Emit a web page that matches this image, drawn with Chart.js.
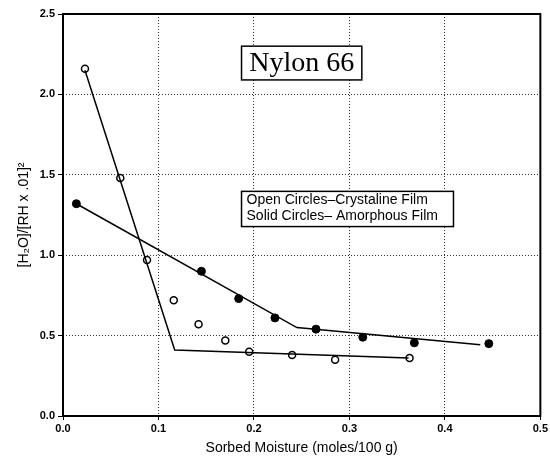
<!DOCTYPE html>
<html>
<head>
<meta charset="utf-8">
<script src="https://cdn.jsdelivr.net/npm/chart.js@4.4.1/dist/chart.umd.min.js"></script>
<style>
  html, body { margin: 0; padding: 0; background: #fff; }
  #wrap { width: 550px; height: 457px; }
</style>
</head>
<body>
<div id="wrap"><canvas id="nylonChart" width="550" height="457"></canvas></div>
<script>
// ─── Data ────────────────────────────────────────────────────────────────────
const openX  = [0.023, 0.060, 0.088, 0.116, 0.142, 0.170, 0.195, 0.240, 0.285, 0.363];
const openY  = [2.16, 1.48, 0.97, 0.72, 0.57, 0.47, 0.40, 0.38, 0.35, 0.36];
const solidX = [0.014, 0.145, 0.184, 0.222, 0.265, 0.314, 0.368, 0.446];
const solidY = [1.32, 0.90, 0.73, 0.61, 0.54, 0.49, 0.455, 0.45];

// hand-drawn fit lines (break points)
const openFitX  = [0.023, 0.117, 0.362];
const openFitY  = [2.15, 0.41, 0.36];
const solidFitX = [0.014, 0.245, 0.437];
const solidFitY = [1.32, 0.55, 0.443];

const xTicks = [0, 0.1, 0.2, 0.3, 0.4, 0.5];
const yTicks = [0, 0.5, 1.0, 1.5, 2.0, 2.5];

const titleText  = 'Nylon 66';
const legendText = ['Open Circles\u2013Crystaline Film', 'Solid Circles\u2013 Amorphous Film'];

const pts = (xs, ys) => xs.map((x, i) => ({ x, y: ys[i] }));

const SANS  = '"Liberation Sans", Arial, Helvetica, sans-serif';
const SERIF = '"Liberation Serif", "Times New Roman", serif';

// ─── Frame + annotation boxes ───────────────────────────────────────────────
const boxesPlugin = {
    id: 'boxes',
    afterDraw(chart) {
        const { ctx, chartArea: a, scales: { x, y } } = chart;
        ctx.save();

        // plot frame
        ctx.strokeStyle = '#000';
        ctx.lineWidth = 2;
        ctx.strokeRect(a.left, a.top, a.right - a.left, a.bottom - a.top);

        // title box
        let l = x.getPixelForValue(0.187), r = x.getPixelForValue(0.313);
        let t = y.getPixelForValue(2.30),  b = y.getPixelForValue(2.09);
        ctx.fillStyle = '#fff';
        ctx.fillRect(l, t, r - l, b - t);
        ctx.lineWidth = 1.5;
        ctx.strokeRect(l, t, r - l, b - t);
        ctx.fillStyle = '#000';
        ctx.font = '28px ' + SERIF;
        ctx.textAlign = 'center';
        ctx.textBaseline = 'middle';
        ctx.fillText(titleText, (l + r) / 2, (t + b) / 2 + 1);

        // legend box
        l = x.getPixelForValue(0.187); r = x.getPixelForValue(0.409);
        t = y.getPixelForValue(1.397); b = y.getPixelForValue(1.178);
        ctx.fillStyle = '#fff';
        ctx.fillRect(l, t, r - l, b - t);
        ctx.strokeRect(l, t, r - l, b - t);
        ctx.fillStyle = '#000';
        ctx.font = '14px ' + SANS;
        ctx.textAlign = 'left';
        ctx.fillText(legendText[0], l + 5, t + 9);
        ctx.fillText(legendText[1], l + 5, t + 25);

        ctx.restore();
    }
};

const ctx = document.getElementById('nylonChart');

new Chart(ctx, {
    type: 'scatter',
    data: {
        datasets: [
            {
                label: 'Crystalline fit',
                data: pts(openFitX, openFitY),
                showLine: true,
                borderColor: '#000',
                borderWidth: 1.5,
                pointRadius: 0,
                fill: false,
            },
            {
                label: 'Amorphous fit',
                data: pts(solidFitX, solidFitY),
                showLine: true,
                borderColor: '#000',
                borderWidth: 1.5,
                pointRadius: 0,
                fill: false,
            },
            {
                label: 'Open Circles',
                data: pts(openX, openY),
                pointStyle: 'circle',
                pointRadius: 3.5,
                pointBackgroundColor: '#fff',
                pointBorderColor: '#000',
                pointBorderWidth: 1.5,
            },
            {
                label: 'Solid Circles',
                data: pts(solidX, solidY),
                pointStyle: 'circle',
                pointRadius: 4,
                pointBackgroundColor: '#000',
                pointBorderColor: '#000',
                pointBorderWidth: 1,
            },
        ],
    },
    options: {
        responsive: false,
        animation: false,
        layout: { padding: { top: 14, right: 6, left: 0, bottom: 0 } },
        plugins: {
            legend: { display: false },
            tooltip: { enabled: false },
        },
        scales: {
            x: {
                type: 'linear',
                min: 0,
                max: 0.5,
                afterBuildTicks: s => { s.ticks = xTicks.map(v => ({ value: v })); },
                afterFit: s => { s.height = 41; },
                ticks: {
                    color: '#000',
                    font: { family: SANS, size: 11, weight: 'bold' },
                    padding: 2,
                    callback: v => v.toFixed(1),
                },
                grid: {
                    color: c => (c.index === 0 || c.index === xTicks.length - 1) ? 'rgba(0,0,0,0)' : '#333',
                    lineWidth: 1,
                    tickLength: 4,
                    tickColor: '#000',
                },
                border: { display: false, dash: [1, 2] },
                title: {
                    display: true,
                    text: 'Sorbed Moisture (moles/100 g)',
                    color: '#000',
                    font: { family: SANS, size: 14 },
                    padding: { top: 0, bottom: 0 },
                },
            },
            y: {
                type: 'linear',
                min: 0,
                max: 2.5,
                afterBuildTicks: s => { s.ticks = yTicks.map(v => ({ value: v })); },
                afterFit: s => { s.width = 63; },
                ticks: {
                    color: '#000',
                    font: { family: SANS, size: 11, weight: 'bold' },
                    padding: 3,
                    callback: v => v.toFixed(1),
                },
                grid: {
                    color: c => (c.index === 0 || c.index === yTicks.length - 1) ? 'rgba(0,0,0,0)' : '#333',
                    lineWidth: 1,
                    tickLength: 5,
                    tickColor: '#000',
                },
                border: { display: false, dash: [1, 2] },
                title: {
                    display: true,
                    text: '[H\u2082O]/[RH x .01]\u00B2',
                    color: '#000',
                    font: { family: SANS, size: 14 },
                    padding: { top: 16, bottom: 4 },
                },
            },
        },
    },
    plugins: [boxesPlugin],
});
</script>
</body>
</html>
